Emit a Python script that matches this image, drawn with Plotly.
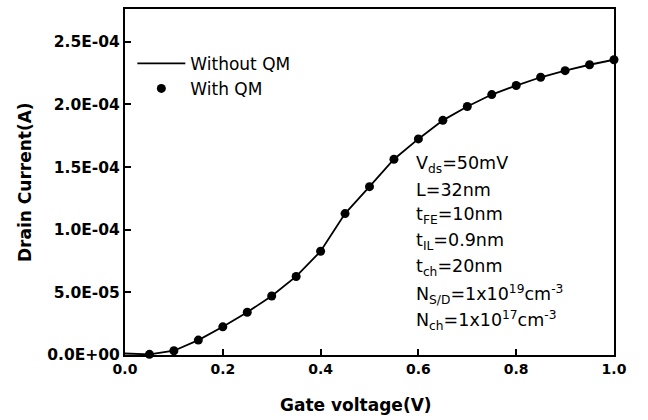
import plotly.graph_objects as go

gate_voltage_line = [0.0, 0.05, 0.10, 0.15, 0.20, 0.25, 0.30, 0.35, 0.40, 0.45, 0.50,
                     0.55, 0.60, 0.65, 0.70, 0.75, 0.80, 0.85, 0.90, 0.95, 1.00]
current_without_qm = [1.2e-6, 0.5e-6, 3.4e-6, 1.19e-5, 2.25e-5, 3.41e-5, 4.71e-5, 6.27e-5,
                      8.28e-5, 1.129e-4, 1.344e-4, 1.563e-4, 1.725e-4, 1.873e-4, 1.984e-4,
                      2.079e-4, 2.151e-4, 2.217e-4, 2.27e-4, 2.317e-4, 2.357e-4]
gate_voltage_points = [0.05, 0.10, 0.15, 0.20, 0.25, 0.30, 0.35, 0.40, 0.45, 0.50,
                       0.55, 0.60, 0.65, 0.70, 0.75, 0.80, 0.85, 0.90, 0.95, 1.00]
current_with_qm = [0.5e-6, 3.4e-6, 1.19e-5, 2.25e-5, 3.41e-5, 4.71e-5, 6.27e-5,
                   8.28e-5, 1.129e-4, 1.344e-4, 1.563e-4, 1.725e-4, 1.873e-4, 1.984e-4,
                   2.079e-4, 2.151e-4, 2.217e-4, 2.27e-4, 2.317e-4, 2.357e-4]

x_tick_vals = [0.0, 0.2, 0.4, 0.6, 0.8, 1.0]
x_tick_text = ["0.0", "0.2", "0.4", "0.6", "0.8", "1.0"]
y_tick_vals = [0.0, 5e-5, 1e-4, 1.5e-4, 2e-4, 2.5e-4]
y_tick_text = ["0.0E+00", "5.0E-05", "1.0E-04", "1.5E-04", "2.0E-04", "2.5E-04"]

x_title = "Gate voltage(V)"
y_title = "Drain Current(A)"

param_lines = [
    "V<sub>ds</sub>=50mV",
    "L=32nm",
    "t<sub>FE</sub>=10nm",
    "t<sub>IL</sub>=0.9nm",
    "t<sub>ch</sub>=20nm",
    "N<sub>S/D</sub>=1x10<sup>19</sup>cm<sup>-3</sup>",
    "N<sub>ch</sub>=1x10<sup>17</sup>cm<sup>-3</sup>",
]

FONT = "DejaVu Sans, Arial, sans-serif"

fig = go.Figure()
fig.add_trace(go.Scatter(
    x=gate_voltage_line, y=current_without_qm, mode="lines", name="Without QM",
    line=dict(color="black", width=1.8), cliponaxis=False,
))
fig.add_trace(go.Scatter(
    x=gate_voltage_points, y=current_with_qm, mode="markers", name="With QM",
    marker=dict(color="black", size=9, symbol="circle"), cliponaxis=False,
))

plot_left, plot_right = 125, 614
plot_top, plot_bottom = 7, 355
W = plot_right - plot_left
H = plot_bottom - plot_top
line_y_px = [163, 189, 215, 241, 267, 294, 320]
for txt, py in zip(param_lines, line_y_px):
    fig.add_annotation(
        text=txt, xref="paper", yref="paper",
        x=(414 - plot_left) / W, y=(plot_bottom - py) / H,
        xanchor="left", yanchor="middle", showarrow=False,
        font=dict(family=FONT, size=17.5, color="black"),
    )

# axis titles
fig.add_annotation(
    text=f"<b>{x_title}</b>", xref="paper", yref="paper",
    x=(356 - plot_left) / W, y=(plot_bottom - 405) / H,
    xanchor="center", yanchor="middle", showarrow=False,
    font=dict(family=FONT, size=17, color="black"),
)
fig.add_annotation(
    text=f"<b>{y_title}</b>", xref="paper", yref="paper", textangle=-90,
    x=(25 - plot_left) / W, y=(plot_bottom - 181) / H,
    xanchor="center", yanchor="middle", showarrow=False,
    font=dict(family=FONT, size=17, color="black"),
)

fig.update_layout(
    width=648, height=420,
    margin=dict(l=plot_left, r=648 - plot_right, t=plot_top, b=420 - plot_bottom),
    paper_bgcolor="white", plot_bgcolor="white",
    showlegend=True,
    legend=dict(
        x=0.015, y=(plot_bottom - 44) / H, xanchor="left", yanchor="top",
        bgcolor="rgba(0,0,0,0)", font=dict(family=FONT, size=17, color="black"),
        tracegroupgap=0, itemwidth=48,
    ),
    xaxis=dict(
        range=[0, 1.0], tickvals=x_tick_vals, ticktext=x_tick_text,
        ticks="inside", ticklen=6, tickwidth=2, tickcolor="black",
        showline=True, linewidth=2, linecolor="black", mirror=True,
        showgrid=False, zeroline=False,
        tickfont=dict(family=FONT, size=14, color="black", weight="bold"),
    ),
    yaxis=dict(
        range=[0, 2.762e-4], tickvals=y_tick_vals, ticktext=y_tick_text,
        ticks="inside", ticklen=6, tickwidth=2, tickcolor="black",
        showline=True, linewidth=2, linecolor="black", mirror=True,
        showgrid=False, zeroline=False,
        tickfont=dict(family=FONT, size=15.5, color="black", weight="bold"),
    ),
)

fig.write_html("out.html")
